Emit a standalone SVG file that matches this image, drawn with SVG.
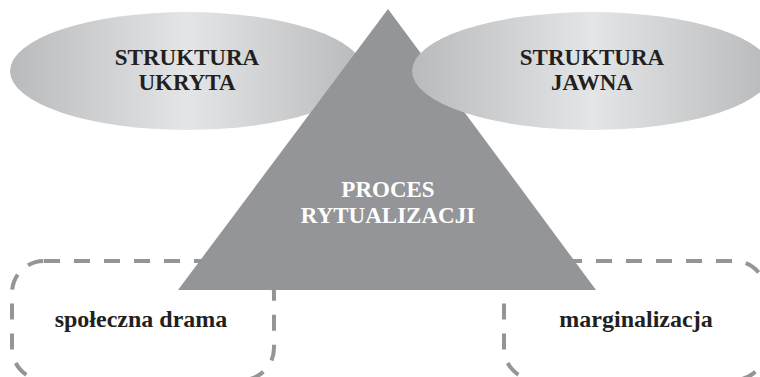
<svg xmlns="http://www.w3.org/2000/svg" width="760" height="377" viewBox="0 0 760 377">
  <defs>
    <linearGradient id="ovalFill" x1="0" y1="0" x2="1" y2="0">
      <stop offset="0" stop-color="#b9babc"/>
      <stop offset="0.5" stop-color="#e4e5e6"/>
      <stop offset="1" stop-color="#b9babc"/>
    </linearGradient>
  </defs>
  <style>
    .oval { fill: url(#ovalFill); }
    .box { fill: none; stroke: #939598; stroke-width: 4; stroke-dasharray: 16 14; }
    .tri { fill: #939598; }
    .lbl { font-family: "Liberation Serif", "Times New Roman", serif; font-weight: bold; text-anchor: middle; fill: #231f20; }
    .big { font-size: 23px; }
    .small { font-size: 24px; }
    .white { fill: #ffffff; }
  </style>
  <rect width="760" height="377" fill="#ffffff"/>

  <g id="spoleczna-drama">
    <rect class="box" x="12" y="261" width="262" height="119" rx="32" ry="32"/>
    <text class="lbl small" x="141" y="327">społeczna drama</text>
  </g>

  <g id="marginalizacja">
    <rect class="box" x="504" y="261" width="262" height="119" rx="32" ry="32"/>
    <text class="lbl small" x="636" y="327">marginalizacja</text>
  </g>

  <g id="struktura-ukryta">
    <ellipse class="oval" cx="187" cy="71" rx="177" ry="59"/>
    <text class="lbl big" x="187" y="65">STRUKTURA</text>
    <text class="lbl big" x="187" y="90">UKRYTA</text>
  </g>

  <g id="proces-rytualizacji">
    <polygon class="tri" points="388,9 596,290 178,290"/>
    <text class="lbl big white" x="388" y="197">PROCES</text>
    <text class="lbl big white" x="388" y="223">RYTUALIZACJI</text>
  </g>

  <g id="struktura-jawna">
    <ellipse class="oval" cx="592" cy="71" rx="180" ry="59"/>
    <text class="lbl big" x="592" y="65">STRUKTURA</text>
    <text class="lbl big" x="592" y="90">JAWNA</text>
  </g>

  <g id="connectors"></g>
</svg>
